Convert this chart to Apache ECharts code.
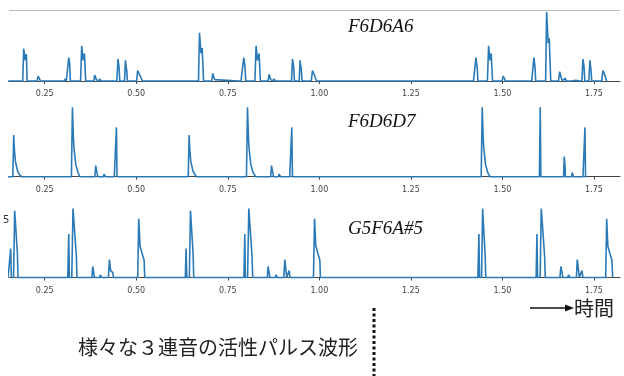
<!DOCTYPE html>
<html>
<head>
<meta charset="utf-8">
<script src="https://cdn.jsdelivr.net/npm/echarts@6/dist/echarts.min.js"></script>
<style>
  html, body { margin: 0; padding: 0; background: #fff; }
  #chart { width: 624px; height: 376px; }
</style>
</head>
<body>
<div id="chart"></div>
<script>
// time (s) / activation pairs
const titles = ['F6D6A6', 'F6D6D7', 'G5F6A#5']
const tickValues = [0.25, 0.5, 0.75, 1.0, 1.25, 1.5, 1.75]

const f6d6a6 = [
  [0.15, 0], [0.19, 0], [0.1926, 0.47], [0.197, 0.3], [0.2, 0.39], [0.202, 0],
  [0.229, 0], [0.232, 0.07], [0.236, 0.03], [0.238, 0],
  [0.303, 0], [0.3066, 0.03], [0.309, 0],
  [0.313, 0], [0.3156, 0.34], [0.318, 0.27], [0.32, 0],
  [0.348, 0], [0.351, 0.51], [0.355, 0.3], [0.3585, 0.4], [0.362, 0],
  [0.384, 0], [0.3866, 0.087], [0.391, 0.02], [0.395, 0],
  [0.398, 0], [0.4003, 0.03], [0.404, 0],
  [0.41, 0], [0.414, 0.015], [0.42, 0], [0.425, 0.01], [0.43, 0],
  [0.447, 0], [0.45, 0.32], [0.453, 0.2], [0.455, 0],
  [0.468, 0], [0.4705, 0.3], [0.474, 0.15], [0.476, 0],
  [0.501, 0], [0.504, 0.15], [0.51, 0.08], [0.517, 0],
  [0.545, 0], [0.548, 0.015], [0.551, 0],
  [0.632, 0], [0.635, 0.015], [0.638, 0],
  [0.67, 0], [0.6727, 0.7], [0.677, 0.4], [0.68, 0.48], [0.684, 0],
  [0.706, 0], [0.709, 0.11], [0.714, 0.02], [0.716, 0],
  [0.779, 0], [0.7827, 0.02], [0.786, 0],
  [0.791, 0], [0.7937, 0.34], [0.797, 0.2], [0.799, 0],
  [0.824, 0], [0.8273, 0.51], [0.831, 0.3], [0.8355, 0.4], [0.839, 0],
  [0.86, 0], [0.863, 0.097], [0.867, 0.02], [0.87, 0],
  [0.873, 0], [0.876, 0.03], [0.88, 0], [0.885, 0.012], [0.89, 0], [0.895, 0.012], [0.9, 0],
  [0.924, 0], [0.9267, 0.32], [0.93, 0.2], [0.932, 0],
  [0.945, 0], [0.9475, 0.3], [0.951, 0.15], [0.953, 0],
  [0.978, 0], [0.9813, 0.15], [0.987, 0.08], [0.9923, 0],
  [1.414, 0], [1.4175, 0.012], [1.421, 0],
  [1.425, 0], [1.4276, 0.34], [1.431, 0.2], [1.433, 0],
  [1.459, 0], [1.4623, 0.51], [1.466, 0.3], [1.4694, 0.4], [1.473, 0],
  [1.499, 0], [1.502, 0.07], [1.506, 0.03], [1.508, 0],
  [1.574, 0], [1.577, 0.015], [1.58, 0],
  [1.583, 0], [1.586, 0.34], [1.589, 0.2], [1.591, 0],
  [1.618, 0], [1.6207, 1.0], [1.625, 0.55], [1.6278, 0.62], [1.632, 0],
  [1.653, 0], [1.6563, 0.135], [1.661, 0.04], [1.664, 0],
  [1.668, 0], [1.6708, 0.04], [1.675, 0], [1.68, 0.012], [1.69, 0], [1.7, 0.012], [1.71, 0],
  [1.717, 0], [1.72, 0.32], [1.723, 0.2], [1.725, 0],
  [1.736, 0], [1.739, 0.3], [1.742, 0.15], [1.744, 0],
  [1.771, 0], [1.7745, 0.15], [1.78, 0.08], [1.7847, 0]
]

const f6d6d7 = [
  [0.15, 0], [0.163, 0], [0.1653, 0.6], [0.167, 0.41], [0.17, 0.22], [0.176, 0.08], [0.181, 0.03], [0.187, 0],
  [0.323, 0], [0.3257, 1.0], [0.3285, 0.55], [0.33, 0.41], [0.335, 0.17], [0.341, 0.06], [0.3456, 0],
  [0.387, 0], [0.3893, 0.16], [0.392, 0.08], [0.3935, 0.1], [0.395, 0],
  [0.41, 0], [0.4121, 0.035], [0.416, 0],
  [0.44, 0], [0.442, 0.01], [0.4435, 0], [0.4459, 0.71], [0.4475, 0],
  [0.642, 0], [0.6443, 0.6], [0.646, 0.41], [0.649, 0.22], [0.655, 0.08], [0.66, 0.03], [0.6645, 0],
  [0.801, 0], [0.8038, 1.0], [0.8065, 0.55], [0.808, 0.41], [0.813, 0.17], [0.819, 0.06], [0.8257, 0],
  [0.867, 0], [0.8694, 0.16], [0.872, 0.08], [0.8735, 0.1], [0.875, 0],
  [0.888, 0], [0.8902, 0.035], [0.894, 0],
  [0.919, 0], [0.921, 0.01], [0.9225, 0], [0.9248, 0.71], [0.9265, 0],
  [1.442, 0], [1.4448, 1.0], [1.4475, 0.55], [1.449, 0.41], [1.454, 0.17], [1.46, 0.06], [1.4658, 0],
  [1.601, 0], [1.6033, 1.0], [1.605, 0],
  [1.667, 0], [1.6689, 0.29], [1.671, 0.15], [1.672, 0],
  [1.689, 0], [1.6907, 0.06], [1.694, 0],
  [1.72, 0], [1.722, 0.01], [1.7235, 0], [1.7254, 0.71], [1.727, 0], [1.73, 0]
]

const g5f6as5 = [
  [0.15, 0], [0.155, 0], [0.1571, 0.42], [0.159, 0], [0.165, 0], [0.168, 0.97], [0.1755, 0.35], [0.177, 0],
  [0.313, 0], [0.3156, 0.63], [0.3175, 0], [0.324, 0], [0.3273, 1.0], [0.3366, 0.3], [0.338, 0],
  [0.379, 0], [0.3811, 0.16], [0.383, 0.1], [0.3845, 0.1], [0.386, 0],
  [0.4, 0], [0.4022, 0.04], [0.405, 0],
  [0.424, 0], [0.4268, 0.26], [0.43, 0.1], [0.432, 0.11], [0.4345, 0.1], [0.436, 0.07], [0.438, 0],
  [0.489, 0], [0.4923, 0.02], [0.496, 0],
  [0.504, 0], [0.5068, 0.85], [0.5105, 0.45], [0.5215, 0.25], [0.5232, 0],
  [0.634, 0], [0.6361, 0.42], [0.638, 0], [0.645, 0], [0.6481, 0.97], [0.6552, 0.35], [0.657, 0],
  [0.794, 0], [0.7964, 0.63], [0.798, 0], [0.804, 0], [0.8074, 1.0], [0.8163, 0.3], [0.818, 0],
  [0.858, 0], [0.8601, 0.16], [0.862, 0.1], [0.8635, 0.1], [0.865, 0],
  [0.88, 0], [0.882, 0.04], [0.885, 0],
  [0.903, 0], [0.9057, 0.26], [0.909, 0.1], [0.911, 0], [0.9155, 0], [0.9175, 0.1], [0.92, 0],
  [0.969, 0], [0.9721, 0.02], [0.975, 0],
  [0.984, 0], [0.9869, 0.85], [0.9905, 0.45], [1.0014, 0.25], [1.003, 0],
  [1.433, 0], [1.4358, 0.63], [1.4375, 0], [1.443, 0], [1.4459, 1.0], [1.453, 0.3], [1.4545, 0],
  [1.592, 0], [1.5943, 0.63], [1.596, 0], [1.603, 0], [1.6061, 1.0], [1.6153, 0.3], [1.617, 0],
  [1.657, 0], [1.6598, 0.16], [1.662, 0.1], [1.6635, 0.1], [1.665, 0],
  [1.678, 0], [1.6808, 0.04], [1.684, 0],
  [1.702, 0], [1.7044, 0.26], [1.708, 0.1], [1.71, 0], [1.715, 0], [1.7172, 0.1], [1.72, 0],
  [1.768, 0], [1.771, 0.02], [1.774, 0],
  [1.782, 0], [1.7847, 0.85], [1.788, 0.45], [1.799, 0.25], [1.801, 0]
]

const traces = [f6d6a6, f6d6d7, g5f6as5]

const panels = [
  { top: 10, height: 75, min: -0.058, max: 1.03, titleY: 27 },
  { top: 104, height: 77, min: -0.062, max: 1.047, titleY: 122 },
  { top: 205, height: 77, min: -0.065, max: 1.05, titleY: 229 },
]

const chart = echarts.init(document.getElementById('chart'), null, { renderer: 'canvas' })

const option = {
  animation: false,
  backgroundColor: '#fff',
  grid: panels.map((p) => ({ left: 9, right: 4, top: p.top, height: p.height })),
  xAxis: panels.map((p, i) => ({
    type: 'value',
    gridIndex: i,
    min: 0.1525,
    max: 1.8211,
    axisLine: { lineStyle: { color: '#444', width: 1 } },
    axisTick: { show: true, length: 3, customValues: tickValues, lineStyle: { color: '#444' } },
    axisLabel: {
      customValues: tickValues,
      margin: 5,
      color: '#444',
      fontSize: 8,
      fontFamily: 'DejaVu Sans',
      formatter: (v) => v.toFixed(2),
    },
    splitLine: { show: false },
  })),
  yAxis: panels.map((p, i) => ({
    type: 'value',
    gridIndex: i,
    min: p.min,
    max: p.max,
    show: false,
  })),
  series: traces.map((data, i) => ({
    type: 'line',
    xAxisIndex: i,
    yAxisIndex: i,
    data: data,
    symbol: 'none',
    clip: true,
    lineStyle: { color: '#2a7ab8', width: 1.6 },
  })),
  graphic: [
    {
      type: 'line',
      shape: { x1: 9, y1: 10.5, x2: 620, y2: 10.5 },
      style: { stroke: '#bbb', lineWidth: 1 },
    },
    ...titles.map((t, i) => ({
      type: 'text',
      x: 348,
      y: panels[i].titleY,
      style: {
        text: t,
        font: 'italic 19px "Liberation Serif"',
        fill: '#111',
        textVerticalAlign: 'middle',
      },
    })),
    {
      type: 'text',
      x: 3,
      y: 220,
      style: { text: '5', font: '10px "DejaVu Sans"', fill: '#333', textVerticalAlign: 'middle' },
    },
    {
      type: 'text',
      x: 78,
      y: 347,
      style: {
        text: '様々な３連音の活性パルス波形',
        font: '20px "Noto Sans CJK JP"',
        fill: '#222',
        textVerticalAlign: 'middle',
      },
    },
    {
      type: 'line',
      shape: { x1: 374, y1: 308, x2: 374, y2: 376 },
      style: { stroke: '#111', lineWidth: 3, lineDash: [3, 2.5] },
    },
    {
      type: 'line',
      shape: { x1: 530, y1: 308, x2: 566, y2: 308 },
      style: { stroke: '#111', lineWidth: 1.5 },
    },
    {
      type: 'polygon',
      shape: { points: [[565, 304.5], [574, 308], [565, 311.5]] },
      style: { fill: '#111' },
    },
    {
      type: 'text',
      x: 574,
      y: 308,
      style: {
        text: '時間',
        font: '20px "Noto Sans CJK JP"',
        fill: '#222',
        textVerticalAlign: 'middle',
      },
    },
  ],
}

chart.setOption(option)
</script>
</body>
</html>
